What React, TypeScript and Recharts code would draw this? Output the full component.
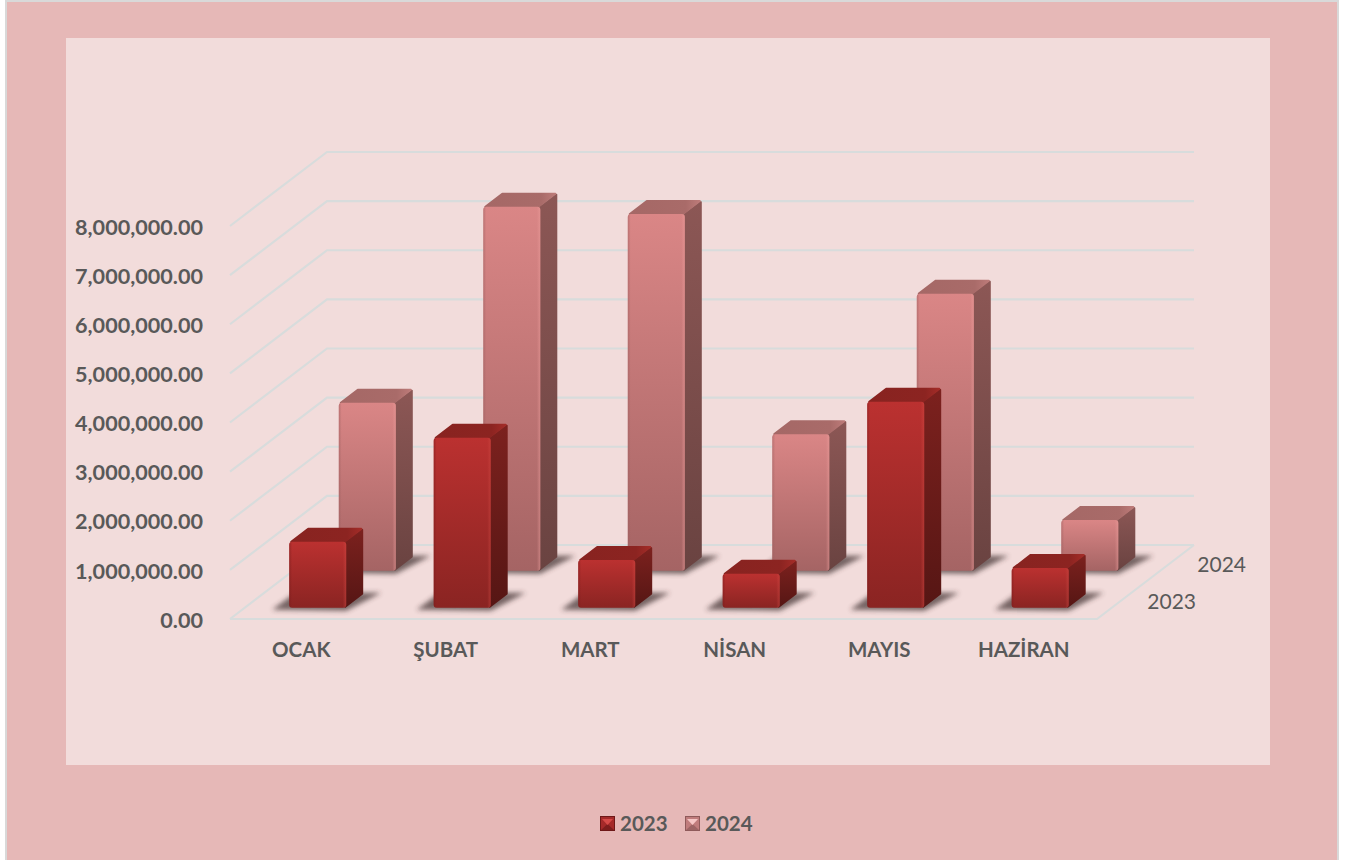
import { BarChart, Bar, XAxis, YAxis, CartesianGrid } from 'recharts';

const MONTHS = ['OCAK', 'ŞUBAT', 'MART', 'NİSAN', 'MAYIS', 'HAZİRAN'];
const VALUES_2023 = [1340000, 3460000, 970000, 690000, 4190000, 810000];
const VALUES_2024 = [3420000, 7410000, 7260000, 2780000, 5640000, 1030000];
const Y_TICKS = [0, 1000000, 2000000, 3000000, 4000000, 5000000, 6000000, 7000000, 8000000];

const data = MONTHS.map((month, i) => ({
  month,
  y2023: VALUES_2023[i],
  y2024: VALUES_2024[i],
}));

const FONT = 'Lato, Carlito, sans-serif';
const TEXT = '#595959';
const GRID = '#d8dcdc';

// oblique projection of the floor
const WALL_DX = 97;
const WALL_DY = -74;
const BAR_W = 57;
const BAR_DX = 17;
const BAR_DY = -14;

function gridLine(props: any) {
  const { x1, x2, y1, index } = props;
  const isFloor = y1 > 600;
  return (
    <g key={index} fill="none" stroke={GRID} strokeWidth={2.2}>
      <polyline points={`${x1},${y1} ${x1 + WALL_DX},${y1 + WALL_DY} ${x2 + WALL_DX},${y1 + WALL_DY}`} />
      {isFloor && (
        <polyline points={`${x1},${y1} ${x2},${y1} ${x2 + WALL_DX},${y1 + WALL_DY}`} />
      )}
    </g>
  );
}

function box(name: string, dx: number, dy: number) {
  return function Box(props: any) {
    const x = props.x + dx;
    const y = props.y + dy;
    const w = props.width;
    const h = props.height;
    const b = y + h;
    return (
      <g>
        <polygon
          points={`${x - 17},${b + 2} ${x + w},${b + 3} ${x + w + BAR_DX + 18},${b + BAR_DY - 1} ${x + 6},${b + BAR_DY - 1}`}
          fill="#3a2a2a"
          opacity={0.68}
          filter="url(#floorShadow)"
        />
        <polygon
          points={`${x + w - 1},${y + 1} ${x + w + BAR_DX - 1},${y + BAR_DY + 2} ${x + w + BAR_DX - 1},${b + BAR_DY} ${x + w - 1},${b - 1}`}
          fill={`url(#side${name})`}
          stroke={`url(#side${name})`}
          strokeWidth={2}
          strokeLinejoin="round"
        />
        <polygon
          points={`${x + 2},${y} ${x + BAR_DX + 2},${y + BAR_DY + 1} ${x + w + BAR_DX - 2},${y + BAR_DY + 1} ${x + w - 2},${y}`}
          fill={`url(#top${name})`}
          stroke={`url(#top${name})`}
          strokeWidth={2}
          strokeLinejoin="round"
        />
        <rect x={x} y={y} width={w} height={h} rx={3} fill={`url(#front${name})`} />
        <rect x={x} y={y} width={w} height={h} rx={3} fill={`url(#edge${name})`} />
      </g>
    );
  };
}

function LegendIcon({ dark, mid, light }: { dark: string; mid: string; light: string }) {
  return (
    <svg width={15} height={15} style={{ display: 'block' }}>
      <rect width={15} height={15} fill={dark} />
      <rect x={1} y={1} width={13} height={13} fill={mid} />
      <polygon points="1,14 7.5,8 14,14" fill={dark} opacity={0.7} />
      <polygon points="2,3 13,3 7.5,9" fill={light} />
    </svg>
  );
}

const legendText = {
  position: 'absolute' as const,
  top: 809,
  fontFamily: FONT,
  fontSize: 20.5,
  fontWeight: 700,
  color: TEXT,
  lineHeight: '28px',
};

export default function App() {
  return (
    <div style={{ position: 'absolute', left: 0, top: 0, width: 1357, height: 860, background: '#fff', overflow: 'hidden' }}>
      <div style={{ position: 'absolute', left: 5, top: 0, width: 1330, height: 860, background: '#e6b8b7', border: '2px solid #d9d9d9', borderBottom: 'none' }} />
      <div style={{ position: 'absolute', left: 66, top: 38, width: 1204, height: 727, background: '#f2dcdb' }} />
      <div style={{ position: 'absolute', left: 0, top: 0 }}>
        <BarChart
          width={1357}
          height={860}
          data={data}
          margin={{ top: 226, right: 260, bottom: 181, left: 30 }}
          barSize={BAR_W}
          barGap={-BAR_W}
        >
          <defs>
            <linearGradient id="front2023" x1="0" y1="0" x2="0" y2="1">
              <stop offset="0" stopColor="#bb3130" />
              <stop offset="1" stopColor="#8a2422" />
            </linearGradient>
            <linearGradient id="side2023" x1="0" y1="0" x2="0" y2="1">
              <stop offset="0" stopColor="#7c211e" />
              <stop offset="1" stopColor="#561614" />
            </linearGradient>
            <linearGradient id="top2023" x1="0" y1="0" x2="1" y2="0">
              <stop offset="0" stopColor="#882320" />
              <stop offset="0.8" stopColor="#8c2421" />
              <stop offset="1" stopColor="#a32c28" />
            </linearGradient>
            <linearGradient id="edge2023" x1="0" y1="0" x2="1" y2="0">
              <stop offset="0" stopColor="#7a1c1c" stopOpacity={0.5} />
              <stop offset="0.05" stopColor="#7a1c1c" stopOpacity={0} />
              <stop offset="0.94" stopColor="#d04a44" stopOpacity={0} />
              <stop offset="1" stopColor="#d04a44" stopOpacity={0.45} />
            </linearGradient>
            <linearGradient id="front2024" x1="0" y1="0" x2="0" y2="1">
              <stop offset="0" stopColor="#da8686" />
              <stop offset="1" stopColor="#a56464" />
            </linearGradient>
            <linearGradient id="side2024" x1="0" y1="0" x2="0" y2="1">
              <stop offset="0" stopColor="#8c5755" />
              <stop offset="1" stopColor="#6a4341" />
            </linearGradient>
            <linearGradient id="top2024" x1="0" y1="0" x2="1" y2="0">
              <stop offset="0" stopColor="#a56866" />
              <stop offset="0.8" stopColor="#a96b69" />
              <stop offset="1" stopColor="#bd7b79" />
            </linearGradient>
            <linearGradient id="edge2024" x1="0" y1="0" x2="1" y2="0">
              <stop offset="0" stopColor="#9a5e5e" stopOpacity={0.5} />
              <stop offset="0.05" stopColor="#9a5e5e" stopOpacity={0} />
              <stop offset="0.94" stopColor="#eb9d9b" stopOpacity={0} />
              <stop offset="1" stopColor="#eb9d9b" stopOpacity={0.5} />
            </linearGradient>
            <filter id="floorShadow" x="-30%" y="-80%" width="160%" height="260%">
              <feGaussianBlur stdDeviation="2.5" />
            </filter>
          </defs>
          <CartesianGrid horizontal={gridLine} vertical={false} stroke={GRID} fill="none" />
          <XAxis
            dataKey="month"
            height={60}
            axisLine={false}
            tickLine={false}
            tickMargin={17}
            interval={0}
            tick={{ fill: TEXT, fontSize: 20.5, fontWeight: 700, fontFamily: FONT, dx: -1 }}
          />
          <YAxis
            width={200}
            domain={[0, 8000000]}
            ticks={Y_TICKS}
            axisLine={false}
            tickLine={false}
            tickMargin={21}
            tickFormatter={(v: number) =>
              v.toLocaleString('en-US', { minimumFractionDigits: 2, maximumFractionDigits: 2 })
            }
            tick={{ fill: TEXT, fontSize: 21.6, fontWeight: 700, fontFamily: FONT, dy: 1 }}
          />
          <Bar dataKey="y2024" name="2024" isAnimationActive={false} shape={box('2024', 64.8, -48.3)} />
          <Bar dataKey="y2023" name="2023" isAnimationActive={false} shape={box('2023', 15.2, -11.3)} />
          <text x={1246} y={572} textAnchor="end" fill={TEXT} fontSize={21} fontFamily={FONT}>2024</text>
          <text x={1196} y={609} textAnchor="end" fill={TEXT} fontSize={21} fontFamily={FONT}>2023</text>
        </BarChart>
      </div>
      <div style={{ position: 'absolute', left: 600, top: 816 }}>
        <LegendIcon dark="#6e1818" mid="#a52a2a" light="#d64a48" />
      </div>
      <div style={{ ...legendText, left: 620 }}>2023</div>
      <div style={{ position: 'absolute', left: 685, top: 816 }}>
        <LegendIcon dark="#8f5a5a" mid="#c07c7c" light="#f6c6c5" />
      </div>
      <div style={{ ...legendText, left: 705 }}>2024</div>
    </div>
  );
}
